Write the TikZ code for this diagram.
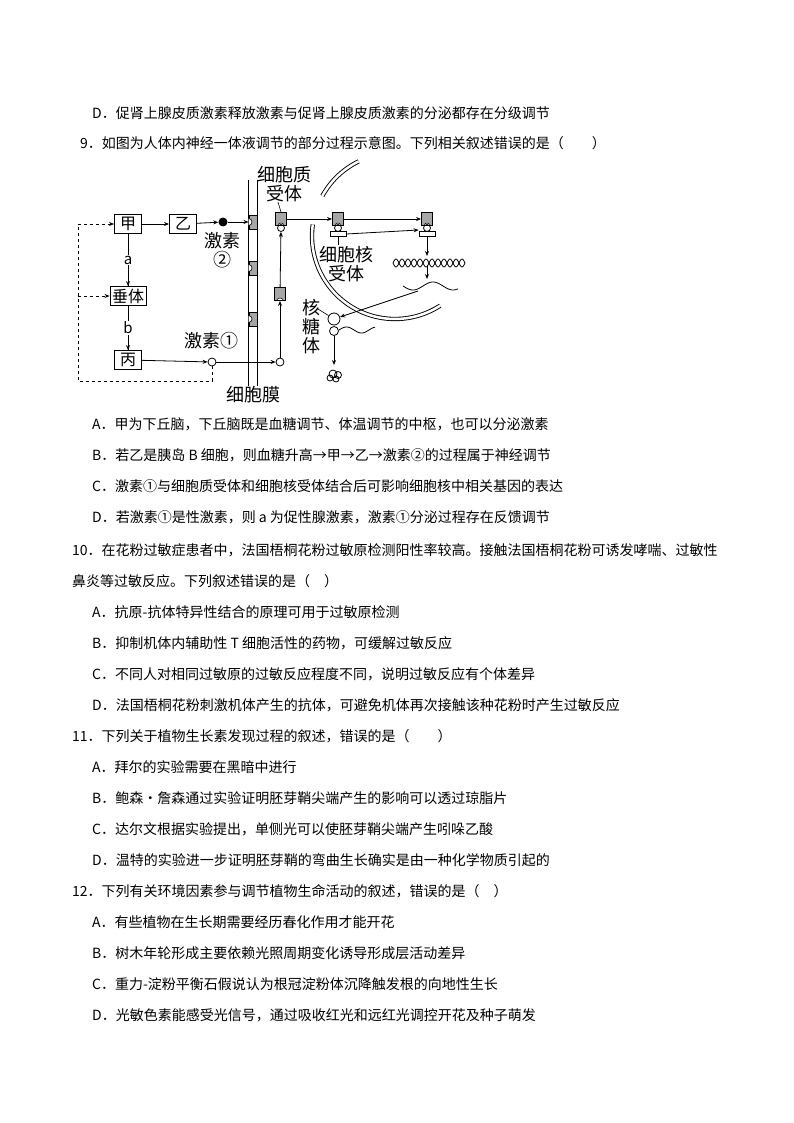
\documentclass[tikz,border=0pt]{standalone}
\usepackage{fontspec}
\setmainfont{Noto Sans CJK SC}
\usetikzlibrary{arrows.meta,positioning}
\begin{document}
\begin{tikzpicture}[x=1pt,y=-1pt]
        \tikzset{
            txt/.style={anchor=west,inner sep=0pt,font=\fontsize{14}{14}\selectfont},
            box/.style={draw,line width=0.9pt,inner sep=2pt,minimum height=19pt,minimum width=27pt,font=\fontsize{16}{16}\selectfont},
            lbl/.style={inner sep=0pt,font=\fontsize{18}{19}\selectfont,align=center},
            arr/.style={-{Stealth[length=5pt,width=4pt]},line width=0.8pt},
            dsh/.style={dashed,line width=1pt},
            hor/.style={circle,draw,line width=0.8pt,minimum size=8pt,inner sep=0pt},
            crec/.style={draw,line width=0.9pt,fill=gray!70,minimum width=11pt,minimum height=13pt,inner sep=0pt,
              path picture={\fill[white,draw=black,line width=0.5pt] ([yshift=-1pt]path picture bounding box.south) circle (3.5pt);}},
            env/.style={double=white,double distance=2.5pt,line width=0.9pt}
            }
        \useasboundingbox (0,0) rectangle (794,1123);

        % page text
        \node[txt] (t1) at (92,113) {D．促肾上腺皮质激素释放激素与促肾上腺皮质激素的分泌都存在分级调节};
        \node[txt] (t2) at (80,143) {9．如图为人体内神经一体液调节的部分过程示意图。下列相关叙述错误的是（　　）};
        \node[txt] (t3) at (92,424) {A．甲为下丘脑，下丘脑既是血糖调节、体温调节的中枢，也可以分泌激素};
        \node[txt] (t4) at (92,455) {B．若乙是胰岛 B 细胞，则血糖升高→甲→乙→激素②的过程属于神经调节};
        \node[txt] (t5) at (92,486) {C．激素①与细胞质受体和细胞核受体结合后可影响细胞核中相关基因的表达};
        \node[txt] (t6) at (92,517) {D．若激素①是性激素，则 a 为促性腺激素，激素①分泌过程存在反馈调节};
        \node[txt] (t7) at (72,550) {10．在花粉过敏症患者中，法国梧桐花粉过敏原检测阳性率较高。接触法国梧桐花粉可诱发哮喘、过敏性};
        \node[txt] (t8) at (72,581) {鼻炎等过敏反应。下列叙述错误的是（　）};
        \node[txt] (t9) at (92,612) {A．抗原-抗体特异性结合的原理可用于过敏原检测};
        \node[txt] (t10) at (92,643) {B．抑制机体内辅助性 T 细胞活性的药物，可缓解过敏反应};
        \node[txt] (t11) at (92,674) {C．不同人对相同过敏原的过敏反应程度不同，说明过敏反应有个体差异};
        \node[txt] (t12) at (92,705) {D．法国梧桐花粉刺激机体产生的抗体，可避免机体再次接触该种花粉时产生过敏反应};
        \node[txt] (t13) at (72,736) {11．下列关于植物生长素发现过程的叙述，错误的是（　　）};
        \node[txt] (t14) at (92,767) {A．拜尔的实验需要在黑暗中进行};
        \node[txt] (t15) at (92,798) {B．鲍森·詹森通过实验证明胚芽鞘尖端产生的影响可以透过琼脂片};
        \node[txt] (t16) at (92,829) {C．达尔文根据实验提出，单侧光可以使胚芽鞘尖端产生吲哚乙酸};
        \node[txt] (t17) at (92,860) {D．温特的实验进一步证明胚芽鞘的弯曲生长确实是由一种化学物质引起的};
        \node[txt] (t18) at (72,891) {12．下列有关环境因素参与调节植物生命活动的叙述，错误的是（　）};
        \node[txt] (t19) at (92,922) {A．有些植物在生长期需要经历春化作用才能开花};
        \node[txt] (t20) at (92,953) {B．树木年轮形成主要依赖光照周期变化诱导形成层活动差异};
        \node[txt] (t21) at (92,984) {C．重力-淀粉平衡石假说认为根冠淀粉体沉降触发根的向地性生长};
        \node[txt] (t22) at (92,1015) {D．光敏色素能感受光信号，通过吸收红光和远红光调控开花及种子萌发};

        % boxes
        \node[box] (jia) at (128,224) {甲};
        \node[box] (yi) at (183,224) {乙};
        \node[box] (chui) at (128,296) {垂体};
        \node[box] (bing) at (128,360) {丙};
        \node[circle,fill,minimum size=9pt,inner sep=0pt] (h2) at (223,222) {};
        \node[hor] (h1) at (212,362) {};
        \node[hor] (h1b) at (280,362) {};
        \node[lbl] (l2) at (222,250) {激素\\②};
        \node[lbl] (l1) at (211,341) {激素①};

        % membrane
        \draw[line width=0.9pt] (248,180) -- (248,386) (257,180) -- (257,386);
        \foreach \yy in {222,268,319}
            \filldraw[fill=gray!70,line width=0.6pt] (249,\yy-7) rectangle (257,\yy+7);
        \foreach \yy in {222,268,319}
            \filldraw[fill=white,line width=0.6pt] (248.5,\yy-3.5) arc (-90:90:3.5);
        \node[lbl] (lm) at (253,395) {细胞膜};

        % left pathway
        \draw[arr] (jia) -- (yi);
        \draw[arr] (yi) -- (h2);
        \draw[arr] (h2) -- (248.5,222);
        \draw[line width=0.8pt] (jia) -- node[fill=white,inner sep=1pt,font=\fontsize{15}{15}\selectfont] (a) {a} (chui);
        \draw[arr] (a) -- (chui);
        \draw[line width=0.8pt] (chui) -- node[fill=white,inner sep=1pt,font=\fontsize{15}{15}\selectfont] (b) {b} (bing);
        \draw[arr] (b) -- (bing);
        \draw[arr] (bing) -- (h1);
        \draw[arr] (h1) -- (h1b);
        \coordinate (dl) at (78,381);
        \draw[dsh] (h1) -- (212,381) -- (dl) -- (78,224);
        \draw[dsh,arr] (78,224) -- (jia);
        \draw[dsh,arr] (78,296) -- (chui);

        % cytoplasm receptors
        \node[crec] (r1) at (280,294) {};
        \node[crec] (r2) at (281,219) {};
        \node[hor,minimum size=7pt] (r2h) at (281,228) {};
        \draw[arr] (h1b) -- (r1);
        \draw[arr] (r1) -- (r2h);
        \node[lbl] (lc) at (284,184) {细胞质\\受体};
        \draw[line width=0.6pt] (lc.south) ++(-6,0) -- (r2.north);

        % nuclear envelope
        \draw[env] (395,236) ++(209:83) arc (209:244:83);
        \draw[env] (395,236) ++(188:83) arc (188:57:83);

        % nucleus receptors
        \node[crec] (r3) at (338,219) {};
        \node[hor,minimum size=7pt] (r3h) at (338,228) {};
        \node[draw,fill=white,line width=0.7pt,minimum width=16pt,minimum height=5pt,inner sep=0pt] (n3) at (338,234) {};
        \node[crec] (r4) at (427,219) {};
        \node[hor,minimum size=7pt] (r4h) at (427,228) {};
        \node[draw,fill=white,line width=0.7pt,minimum width=16pt,minimum height=5pt,inner sep=0pt] (n4) at (427,234) {};
        \draw[arr] (r2) -- (r3);
        \draw[arr] (r3) -- (r4);
        \draw[arr] (n3.east) -- (n4.west |- 230,230);
        \node[lbl] (ln) at (346,264) {细胞核\\受体};
        \draw[line width=0.6pt] (n3.south) -- ++(0,8);

        % gene expression
        \draw[arr] (n4) -- (427,256);
        \draw[line width=0.8pt,domain=393:465,samples=80] plot (\x,{263+4*sin((\x-393)*30)});
        \draw[line width=0.8pt,domain=393:465,samples=80] plot (\x,{263-4*sin((\x-393)*30)});
        \draw[arr] (427,266) -- (427,279);
        \draw[line width=0.8pt,domain=403:458,samples=60] plot (\x,{286+4*sin((\x-403)*9)});
        \node[hor,minimum size=12pt] (rb1) at (334,319) {};
        \node[hor,minimum size=9pt] (rb2) at (334,331) {};
        \draw[arr] (418,291) -- (rb1);
        \draw[line width=0.8pt,domain=339:375,samples=60] plot (\x,{330-3*sin((\x-339)*12)});
        \node[lbl,align=center] (lr) at (311,327) {核\\糖\\体};
        \draw[line width=0.6pt] (318,309) -- (rb1);
        \draw[arr] (rb2) -- (334,365);
        \coordinate (pr) at (333,374);
        \draw[line width=0.8pt] (pr) circle (4pt) ++(5,1) circle (3.5pt) ++(-2,4) circle (3pt) ++(-6,-1) circle (3pt);
        \end{tikzpicture}
\end{document}
